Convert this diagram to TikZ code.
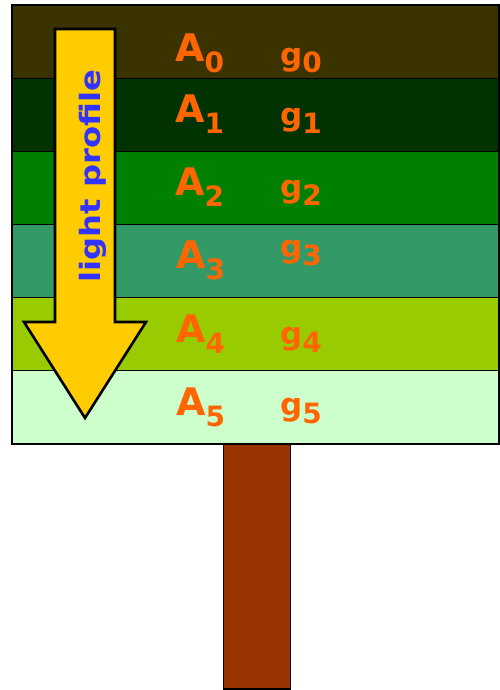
\documentclass[tikz,border=0pt]{standalone}
\usepackage{fontspec}
\setmainfont{DejaVu Sans}
\usepackage{graphicx}
\definecolor{cZero}{HTML}{3A3300}
\definecolor{cOne}{HTML}{003300}
\definecolor{cTwo}{HTML}{008000}
\definecolor{cThree}{HTML}{339966}
\definecolor{cFour}{HTML}{99CC00}
\definecolor{cFive}{HTML}{CCFFCC}
\definecolor{trunkC}{HTML}{993300}
\definecolor{arrowC}{HTML}{FFCC00}
\definecolor{orngC}{HTML}{FF6600}
\definecolor{blueC}{HTML}{3333FF}
\newcommand\asub[1]{\raisebox{-11pt}{\fontsize{28}{28}\selectfont #1}}
\newcommand\gsub[1]{\raisebox{-7.5pt}{\fontsize{28}{28}\selectfont #1}}
\begin{document}
\begin{tikzpicture}[x=1pt,y=-1pt,
  band/.style={draw=black, line width=1.2pt, anchor=north west, inner sep=0pt,
               minimum width=486pt, minimum height=73pt},
  alab/.style={text=orngC, inner sep=0pt, anchor=base west, font=\bfseries\fontsize{38}{38}\selectfont},
  glab/.style={text=orngC, inner sep=0pt, anchor=base west, font=\bfseries\fontsize{31}{31}\selectfont},
  arrowbody/.style={draw=black, line width=2.6pt, fill=arrowC, line join=miter}]
\useasboundingbox (0,0) rectangle (500,690);
% trunk
\node[draw=black, line width=1.8pt, fill=trunkC, anchor=north, inner sep=0pt,
      minimum width=67pt, minimum height=245pt] (trunk) at (257,443) {};
% canopy layers
\node[band, fill=cZero]  (b0) at (12,5) {};
\node[band, fill=cOne]   (b1) at (12,78) {};
\node[band, fill=cTwo]   (b2) at (12,151) {};
\node[band, fill=cThree] (b3) at (12,224) {};
\node[band, fill=cFour]  (b4) at (12,297) {};
\node[band, fill=cFive]  (b5) at (12,370) {};
\draw[line width=1.6pt] (b0.north west) rectangle (b5.south east);
% light arrow
\draw[arrowbody] (55,29) -- (115,29) -- (115,322) -- (146,322) -- (85,418)
      -- (24,322) -- (55,322) -- cycle;
\node[rotate=90, anchor=base, text=blueC, inner sep=0pt,
      font=\bfseries\fontsize{28}{28}\selectfont] (lp) at (100,176) {\scalebox{1.15}[1]{light profile}};
% labels
\node[alab] (A0) at (175,62)  {A\asub{0}};
\node[alab] (A1) at (175,122) {A\asub{1}};
\node[alab] (A2) at (175,195) {A\asub{2}};
\node[alab] (A3) at (176,268) {A\asub{3}};
\node[alab] (A4) at (176,342) {A\asub{4}};
\node[alab] (A5) at (176,415) {A\asub{5}};
\node[glab] (g0) at (280,65.5)  {g\gsub{0}};
\node[glab] (g1) at (280,125.5) {g\gsub{1}};
\node[glab] (g2) at (280,197.5) {g\gsub{2}};
\node[glab] (g3) at (280,257.5) {g\gsub{3}};
\node[glab] (g4) at (280,344.5) {g\gsub{4}};
\node[glab] (g5) at (280,415.5) {g\gsub{5}};
\end{tikzpicture}
\end{document}
